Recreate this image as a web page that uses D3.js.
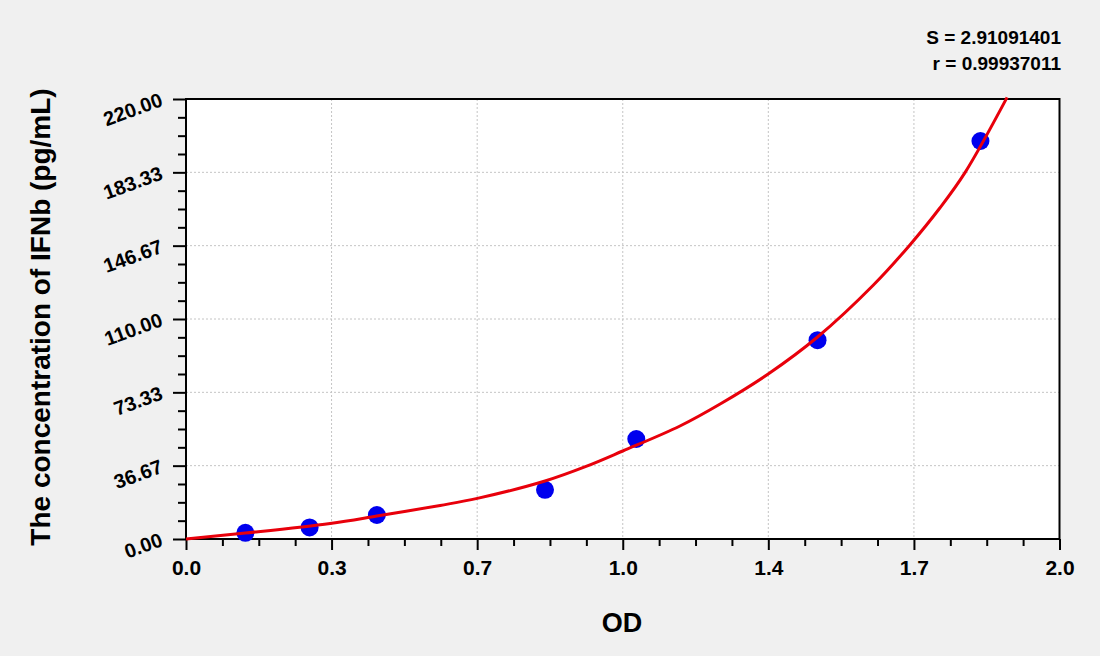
<!DOCTYPE html>
<html>
<head>
<meta charset="utf-8">
<script src="https://cdn.jsdelivr.net/npm/d3@7"></script>
<style>
  html, body { margin: 0; padding: 0; background: #f0f0f0; }
  svg { display: block; }
  svg text { font-family: "Liberation Sans", Arial, sans-serif; font-weight: bold; fill: #000; }
  .grid line { stroke: #c4c4c4; stroke-width: 1; stroke-dasharray: 2 2; }
  .axis path { display: none; }
  .axis line { stroke: #000; stroke-width: 2; }
</style>
</head>
<body>
<svg id="chart" width="1100" height="656"></svg>
<script>
// standard points (OD, concentration)
const pointOD = [0.136, 0.283, 0.437, 0.822, 1.031, 1.446, 1.819];
const pointConc = [3.1, 5.8, 12.0, 24.6, 50.0, 99.4, 199.0];

// fitted curve
const curveOD = [0, 0.136, 0.33, 0.437, 0.582, 0.667, 0.822, 0.916, 1.0, 1.131, 1.223, 1.333, 1.446, 1.574, 1.656, 1.726, 1.784, 1.88];
const curveConc = [0, 3.0, 7.8, 11.5, 16.8, 20.3, 29.0, 36.3, 44.0, 56.5, 67.5, 82.5, 101.0, 127.0, 146.67, 165.5, 183.33, 220.8];

const xTickValues = [0, 0.3333, 0.6667, 1.0, 1.3333, 1.6667, 2.0];
const xTickLabels = ["0.0", "0.3", "0.7", "1.0", "1.4", "1.7", "2.0"];
const yTickValues = [0, 36.67, 73.33, 110, 146.67, 183.33, 220];
const yTickLabels = ["0.00", "36.67", "73.33", "110.00", "146.67", "183.33", "220.00"];

const stats = ["S = 2.91091401", "r = 0.99937011"];

const margin = { left: 186, right: 1059.5, top: 99, bottom: 539 };

const svg = d3.select('#chart');

const x = d3.scaleLinear().domain([0, 2]).range([margin.left, margin.right]);
const y = d3.scaleLinear().domain([0, 220]).range([margin.bottom, margin.top]);

// plot background
svg.append('rect')
  .attr('x', margin.left).attr('y', margin.top)
  .attr('width', margin.right - margin.left)
  .attr('height', margin.bottom - margin.top)
  .attr('fill', '#fff');

// grid
const grid = svg.append('g').attr('class', 'grid');
grid.selectAll('.gx')
  .data(xTickValues.slice(1, -1))
  .enter().append('line')
  .attr('x1', d => x(d)).attr('x2', d => x(d))
  .attr('y1', margin.top).attr('y2', margin.bottom);
grid.selectAll('.gy')
  .data(yTickValues.slice(1, -1))
  .enter().append('line')
  .attr('y1', d => y(d)).attr('y2', d => y(d))
  .attr('x1', margin.left).attr('x2', margin.right);

// minor ticks (3 between majors)
const xMinor = [];
const yMinor = [];
for (let i = 0; i < xTickValues.length - 1; i++) {
  for (let k = 1; k < 4; k++) {
    xMinor.push(xTickValues[i] + (xTickValues[i + 1] - xTickValues[i]) * k / 4);
    yMinor.push(yTickValues[i] + (yTickValues[i + 1] - yTickValues[i]) * k / 4);
  }
}

svg.append('g').attr('class', 'axis')
  .attr('transform', `translate(0,${margin.bottom})`)
  .call(d3.axisBottom(x).tickValues(xMinor).tickSize(7).tickFormat(''));
svg.append('g').attr('class', 'axis')
  .attr('transform', `translate(${margin.left},0)`)
  .call(d3.axisLeft(y).tickValues(yMinor).tickSize(8).tickFormat(''));

const xAxis = svg.append('g').attr('class', 'axis')
  .attr('transform', `translate(0,${margin.bottom})`)
  .call(d3.axisBottom(x).tickValues(xTickValues).tickSize(11)
    .tickFormat((d, i) => xTickLabels[i]));
xAxis.selectAll('text')
  .attr('y', 36).attr('dy', 0)
  .style('font-size', '21px');

const yAxis = svg.append('g').attr('class', 'axis')
  .attr('transform', `translate(${margin.left},0)`)
  .call(d3.axisLeft(y).tickValues(yTickValues).tickSize(13)
    .tickFormat((d, i) => yTickLabels[i]));
yAxis.selectAll('text')
  .attr('x', null).attr('dy', null)
  .attr('text-anchor', 'end')
  .attr('transform', 'translate(-22,6) rotate(-20)')
  .style('font-size', '20px');

// frame
svg.append('rect')
  .attr('x', margin.left).attr('y', margin.top)
  .attr('width', margin.right - margin.left)
  .attr('height', margin.bottom - margin.top)
  .attr('fill', 'none').attr('stroke', '#000').attr('stroke-width', 2);

// points
svg.append('g').selectAll('circle')
  .data(pointOD.map((d, i) => [d, pointConc[i]]))
  .enter().append('circle')
  .attr('cx', d => x(d[0])).attr('cy', d => y(d[1]))
  .attr('r', 9).attr('fill', '#0000ee');

// fitted curve
const line = d3.line()
  .x(d => x(d[0])).y(d => y(d[1]))
  .curve(d3.curveCatmullRom);
svg.append('path')
  .datum(curveOD.map((d, i) => [d, curveConc[i]]))
  .attr('d', line)
  .attr('fill', 'none').attr('stroke', '#e8000b').attr('stroke-width', 3);

// titles
svg.append('text')
  .attr('x', 622).attr('y', 632)
  .attr('text-anchor', 'middle')
  .style('font-size', '27px')
  .text('OD');
svg.append('text')
  .attr('transform', 'translate(50,317) rotate(-90)')
  .attr('text-anchor', 'middle')
  .style('font-size', '28px')
  .text('The concentration of IFNb (pg/mL)');

svg.append('g').selectAll('text')
  .data(stats)
  .enter().append('text')
  .attr('x', 1061).attr('y', (d, i) => 44 + i * 26)
  .attr('text-anchor', 'end')
  .style('font-size', '19px')
  .text(d => d);
</script>
</body>
</html>
